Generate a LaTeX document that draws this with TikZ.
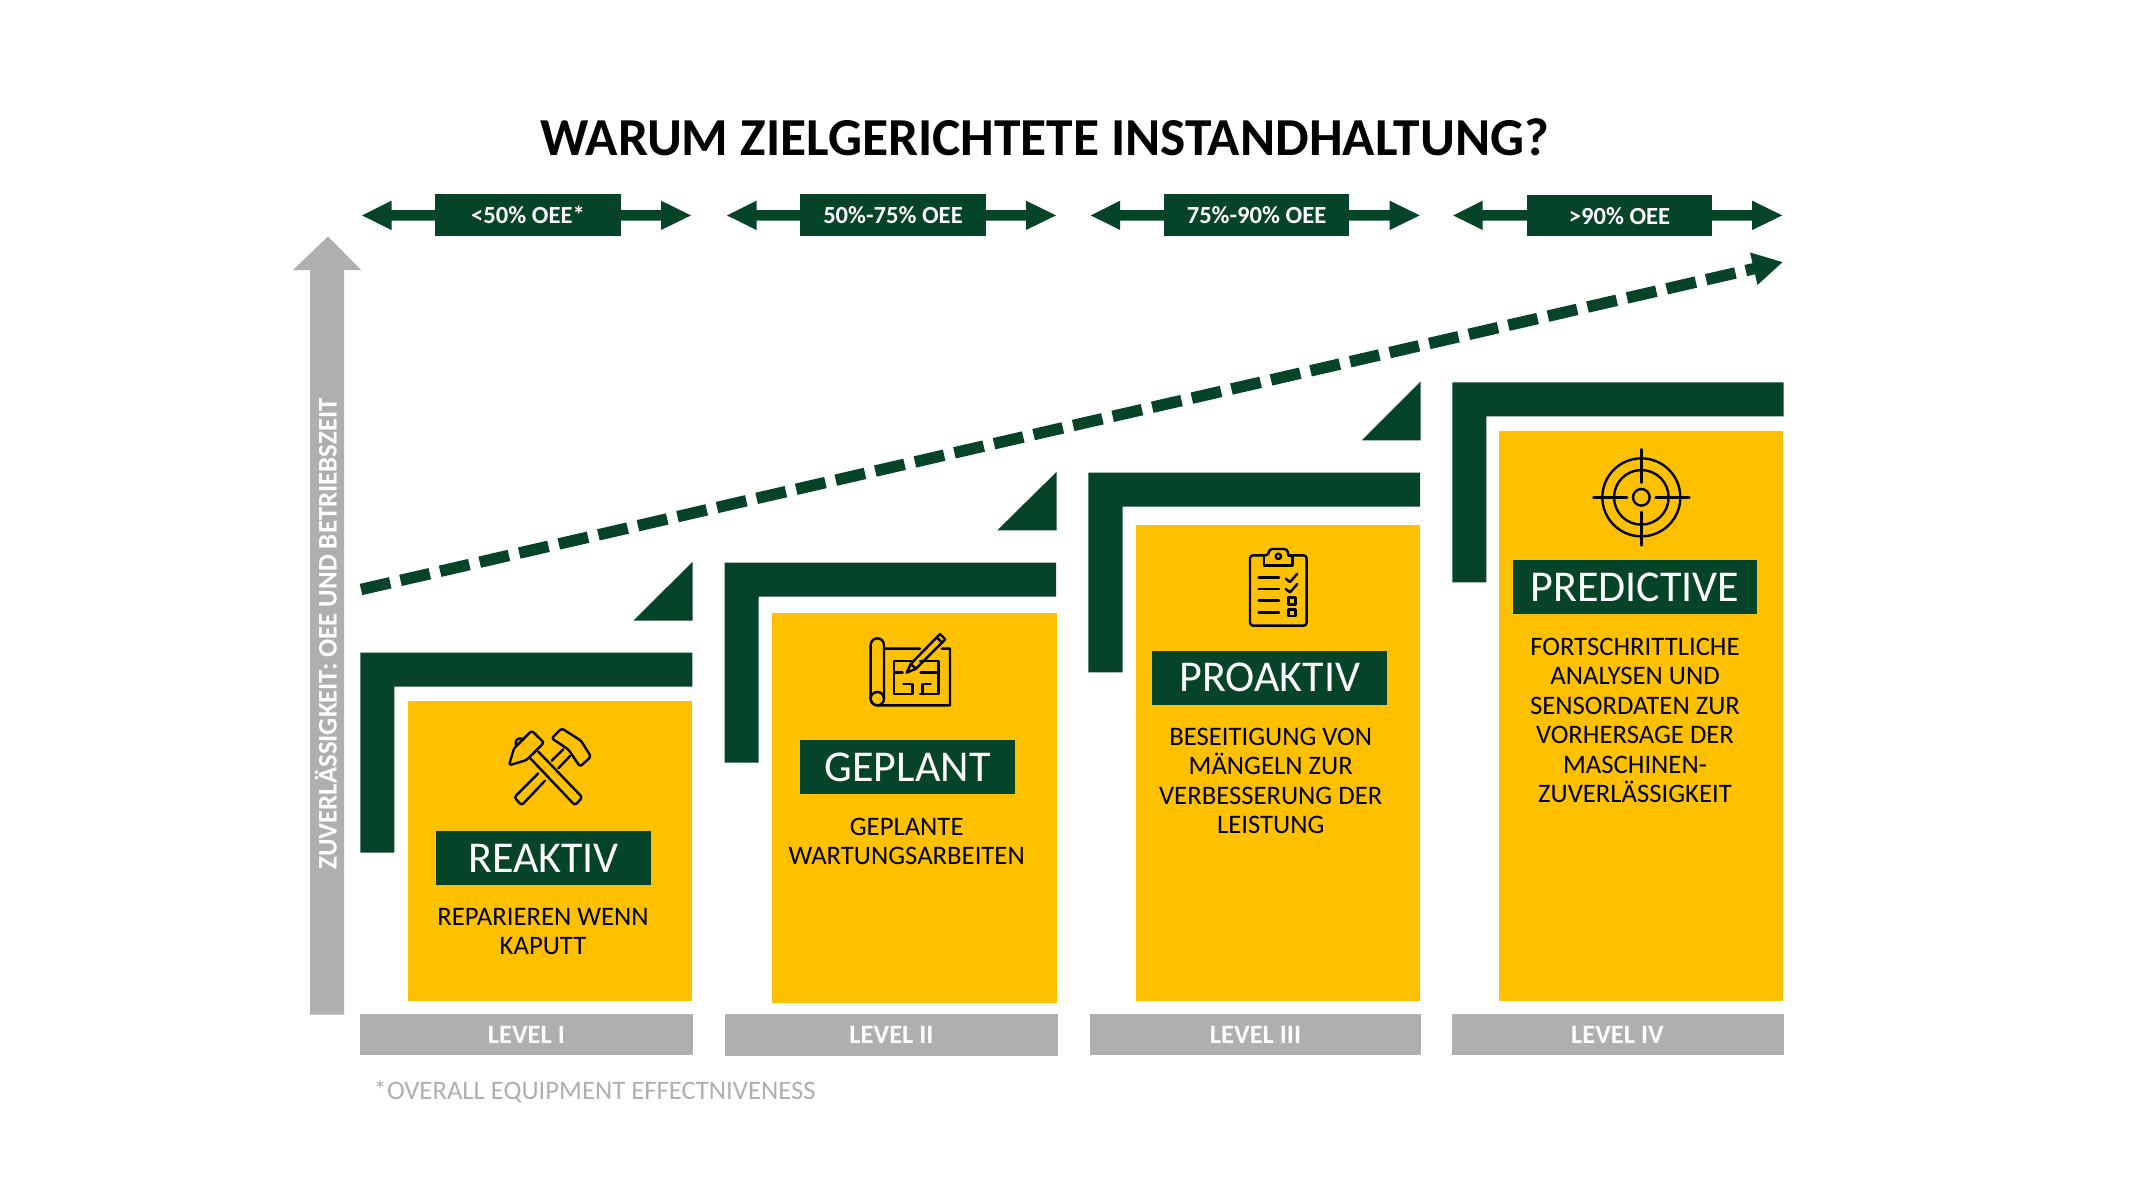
\documentclass[tikz,border=0pt]{standalone}
\usepackage{fontspec}
\setmainfont{Carlito}
\usetikzlibrary{arrows.meta}
\definecolor{dgreen}{HTML}{06442A}
\definecolor{amber}{HTML}{FFC000}
\definecolor{lgray}{HTML}{AFAFAF}
\tikzset{
  shapegreen/.style={fill=dgreen,draw=none},
  panel/.style={fill=amber,draw=none},
  oeebox/.style={fill=dgreen,text=white,inner sep=0pt,minimum width=185.2pt,minimum height=41.7pt,
    font=\fontsize{24.6}{28}\selectfont\bfseries,text height=17pt,text depth=0pt},
  namebox/.style={fill=dgreen,text=white,inner sep=0pt,minimum height=54.3pt,
    font=\fontsize{44}{50}\selectfont,text height=28.5pt,text depth=0pt},
  levelbar/.style={fill=lgray,text=white,inner sep=0pt,minimum height=41.2pt,
    font=\fontsize{26.5}{30}\selectfont\bfseries,text height=17.4pt,text depth=0pt},
  desc/.style={anchor=north,inner sep=0pt,align=center,text=black,
    font=\fontsize{26.7}{29.4}\selectfont,execute at begin node=\strut},
  icon/.style={draw=black,line width=2.4pt,line join=round,line cap=round},
}
\begin{document}
\begin{tikzpicture}[x=1pt,y=-1pt]
\useasboundingbox (0,0) rectangle (2133,1200);
\fill[white] (0,0) rectangle (2133,1200);

\node[anchor=base,inner sep=0pt,font=\fontsize{53.4}{60}\selectfont\bfseries] (title) at (1044.5,155) {WARUM ZIELGERICHTETE INSTANDHALTUNG?};

% OEE double arrows
\foreach \d in {0,365,728.7,1091.2}{
  \fill[shapegreen,shift={(\d,0)}] (362,215.4)--(391.5,200.7)--(391.5,210)--(661,210)--(661,200.7)--(691,215.4)--(661,230)--(661,220.7)--(391.5,220.7)--(391.5,230)--cycle;
}
\node[oeebox] (oee1) at (528,215) {<50\% OEE*};
\node[oeebox] (oee2) at (893,215) {50\%-75\% OEE};
\node[oeebox] (oee3) at (1256.5,215) {75\%-90\% OEE};
\node[oeebox] (oee4) at (1619.5,215.5) {>90\% OEE};

% vertical axis
\fill[lgray] (328,236.5)--(361,270)--(344,270)--(344,1014.7)--(310,1014.7)--(310,270)--(293,270)--cycle;
\node[anchor=base,rotate=90,inner sep=0pt,text=white,font=\fontsize{26.8}{32}\selectfont\bfseries] (axis) at (336.7,633.9) {ZUVERLÄSSIGKEIT: OEE UND BETRIEBSZEIT};

% dashed trend
\coordinate (trendstart) at (361,589.5);
\coordinate (trendend) at (1783,262);
\draw[dgreen,line width=11.5pt,dash pattern=on 30pt off 10.6pt,-{Triangle[length=30pt,width=31pt]}] (trendstart) -- (trendend);

% L-shaped brackets
\fill[shapegreen] (360.3,652.7)--(692.3,652.7)--(692.3,686.7)--(394.3,686.7)--(394.3,852.7)--(360.3,852.7)--cycle;
\fill[shapegreen] (724.7,562.7)--(1056,562.7)--(1056,596.7)--(758.7,596.7)--(758.7,762.7)--(724.7,762.7)--cycle;
\fill[shapegreen] (1088.3,472.7)--(1420,472.7)--(1420,506.7)--(1122.7,506.7)--(1122.7,672.3)--(1088.3,672.3)--cycle;
\fill[shapegreen] (1452.3,382.3)--(1783.7,382.3)--(1783.7,416.3)--(1486.3,416.3)--(1486.3,582.3)--(1452.3,582.3)--cycle;

% triangles
\fill[shapegreen] (692.7,620.7)--(692.7,561.7)--(633.3,620.7)--cycle;
\fill[shapegreen] (1056.7,530.3)--(1056.7,471.7)--(997.3,530.3)--cycle;
\fill[shapegreen] (1420.7,440.3)--(1420.7,381.3)--(1361.7,440.3)--cycle;

% panels
\fill[panel] (408,701.3) rectangle (692,1001.3);
\fill[panel] (772.3,613.3) rectangle (1056.7,1003.3);
\fill[panel] (1135.7,525.3) rectangle (1420,1001);
\fill[panel] (1499.3,431) rectangle (1783,1001);

% name boxes
\node[namebox,minimum width=215pt] (n1) at (543.5,858.2) {REAKTIV};
\node[namebox,minimum width=214.7pt] (n2) at (907.6,767) {GEPLANT};
\node[namebox,minimum width=235pt] (n3) at (1269.8,677.7) {PROAKTIV};
\node[namebox,minimum width=244.3pt] (n4) at (1634.8,587) {PREDICTIVE};

% descriptions
\node[desc] (d1) at (543,908.2) {REPARIEREN WENN\\KAPUTT};
\node[desc] (d2) at (906.7,818) {GEPLANTE\\WARTUNGSARBEITEN};
\node[desc] (d3) at (1270.7,728) {BESEITIGUNG VON\\MÄNGELN ZUR\\VERBESSERUNG DER\\LEISTUNG};
\node[desc] (d4) at (1635,638) {FORTSCHRITTLICHE\\ANALYSEN UND\\SENSORDATEN ZUR\\VORHERSAGE DER\\MASCHINEN-\\ZUVERLÄSSIGKEIT};

% level bars
\node[levelbar,minimum width=332.5pt] (l1) at (526.4,1034.6) {LEVEL I};
\node[levelbar,minimum width=333pt] (l2) at (891.5,1035) {LEVEL II};
\node[levelbar,minimum width=331pt] (l3) at (1255.5,1034.6) {LEVEL III};
\node[levelbar,minimum width=332pt] (l4) at (1617.5,1034.6) {LEVEL IV};

\node[anchor=base west,inner sep=0pt,text=lgray,font=\fontsize{26.7}{30}\selectfont] (foot) at (373.5,1099) {*OVERALL EQUIPMENT EFFECTNIVENESS};

% hammers
\begin{scope}[shift={(480,710)},x=0.3333pt,y=-0.3333pt]
  \draw[icon,rounded corners=2.5pt] (87,166)--(102,115)--(155,62)--(192,98)--(140,150)--cycle;
  \draw[icon] (107,103) .. controls (103,85) and (125,80) .. (130,90);
  \draw[icon,rounded corners=2.5pt] (175,125)--(307,262)--(285,286)--(153,147);
  \draw[icon,rounded corners=2.5pt] (215,85)--(245,55)--(303,92)--(333,140)--(300,170)--(265,118)--cycle;
  \draw[icon] (215,152)--(250,118) (235,175)--(270,138);
  \draw[icon,rounded corners=2.5pt] (175,190)--(103,262)--(125,286)--(195,212);
\end{scope}

% blueprint
\begin{scope}[shift={(840,590)},x=0.3333pt,y=-0.3333pt]
  \draw[icon] (92,326)--(92,165) arc[start angle=180,end angle=360,x radius=20,y radius=20]--(132,326);
  \draw[icon] (112,326) circle[radius=6.7pt];
  \draw[icon] (132,176)--(240,176) (305,176)--(330,176)--(330,346)--(112,346) arc[start angle=90,end angle=180,x radius=20,y radius=20];
  \draw[icon] (200,248)--(212,222)--(300,132)--(316,148)--(228,236)--cycle (290,142)--(306,158) (212,222)--(228,236);
  \draw[icon] (215,213)--(162,213)--(162,312)--(218,312)--(218,282)--(190,282) (162,248)--(188,248) (242,248)--(295,248) (240,213)--(295,213)--(295,312)--(240,312) (248,312)--(248,282)--(272,282);
\end{scope}

% clipboard
\begin{scope}[shift={(1220,530)},x=0.3333pt,y=-0.3333pt]
  \draw[icon,rounded corners=3pt] (132,76)--(90,76)--(90,287)--(260,287)--(260,76)--(217,76);
  \draw[icon] (132,76)--(132,107)--(217,107)--(217,76)--(205,76);
  \draw[icon,rounded corners=3pt] (132,76)--(145,76)--(148,57)--(202,57)--(205,76);
  \draw[icon] (175,79) circle[radius=2.7pt];
  \draw[icon] (116,142)--(177,142) (116,177)--(177,177) (116,212)--(177,212) (116,247)--(177,247);
  \draw[icon] (197,146)--(210,156)--(232,131) (197,177)--(210,187)--(232,162);
  \draw[icon] (206,203) rectangle (226,223) (206,238) rectangle (226,258);
\end{scope}

% target
\begin{scope}[shift={(1580,430)},x=0.3333pt,y=-0.3333pt]
  \draw[icon] (184,202) circle[radius=39pt];
  \draw[icon] (184,202) circle[radius=27.3pt];
  \draw[icon] (184,202) circle[radius=8.3pt];
  \draw[icon] (184,58)--(184,158) (184,246)--(184,346) (40,202)--(141,202) (227,202)--(328,202);
\end{scope}
\end{tikzpicture}
\end{document}
